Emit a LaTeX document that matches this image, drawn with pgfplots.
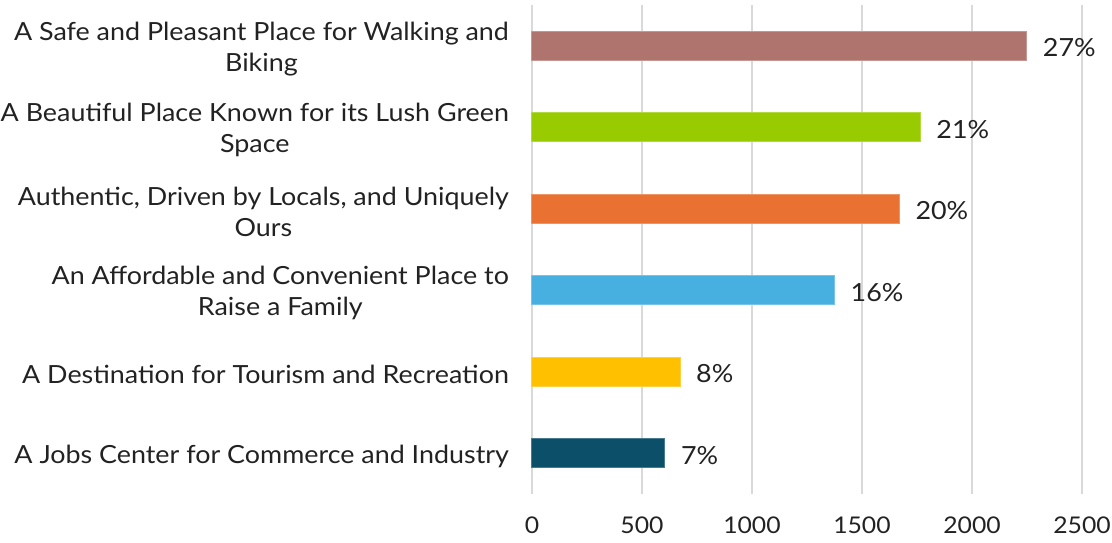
\documentclass[border=0pt]{standalone}
\usepackage{fontspec}
\setmainfont{Lato}[FakeStretch=1.075]
\usepackage{pgfplots}
\pgfplotsset{compat=1.18}

\definecolor{barA}{HTML}{AF746E}
\definecolor{barB}{HTML}{99CC00}
\definecolor{barC}{HTML}{E97132}
\definecolor{barD}{HTML}{47B0E0}
\definecolor{barE}{HTML}{FFC000}
\definecolor{barF}{HTML}{0C4F68}
\definecolor{gridgray}{HTML}{D9D9D9}
\definecolor{txt}{HTML}{222222}

\begin{document}
\begin{tikzpicture}[font=\fontsize{12.5}{15.5}\selectfont]
\useasboundingbox (-266pt,-24pt) rectangle (290pt,247pt);
\begin{axis}[
    at={(0,0)}, anchor=south west,
    scale only axis,
    width=275pt, height=244.5pt,
    xbar,
    every axis plot/.append style={bar shift=0pt, bar width=0.36, line width=0.5pt},
    xmin=0, xmax=2500,
    ymin=-0.5, ymax=5.5,
    xtick={0,500,1000,1500,2000,2500},
    ytick={0,1,2,3,4,5},
    yticklabels={
        {A Jobs Center for Commerce and Industry},
        {A Destination for Tourism and Recreation},
        {An Affordable and Convenient Place to\\Raise a Family},
        {Authentic, Driven by Locals, and Uniquely\\Ours},
        {A Beautiful Place Known for its Lush Green\\Space},
        {A Safe and Pleasant Place for Walking and\\Biking}
    },
    yticklabel style={align=center, text=txt, yshift=-1.5pt},
    xticklabel style={text=txt, font=\fontsize{11.5}{14}\selectfont},
    yticklabel shift=8pt,
    xticklabel shift=8pt,
    /pgf/number format/assume math mode=true,
    /pgf/number format/1000 sep={},
    axis line style={draw=none},
    major tick length=0pt,
    xmajorgrids,
    grid style={line width=0.75pt, gridgray},
    nodes near coords style={text=txt, xshift=4.5pt, yshift=-1pt},
    clip=false
]
    \addplot[fill=barF, draw=barF!75!white, nodes near coords={7\%}]
        coordinates {(604,0)};
    \addplot[fill=barE, draw=barE!75!white, nodes near coords={8\%}]
        coordinates {(673,1)};
    \addplot[fill=barD, draw=barD!75!white, nodes near coords={16\%}]
        coordinates {(1375,2)};
    \addplot[fill=barC, draw=barC!75!white, nodes near coords={20\%}]
        coordinates {(1670,3)};
    \addplot[fill=barB, draw=barB!75!white, nodes near coords={21\%}]
        coordinates {(1765,4)};
    \addplot[fill=barA, draw=barA!75!white, nodes near coords={27\%}]
        coordinates {(2249,5)};
\end{axis}
\end{tikzpicture}
\end{document}
